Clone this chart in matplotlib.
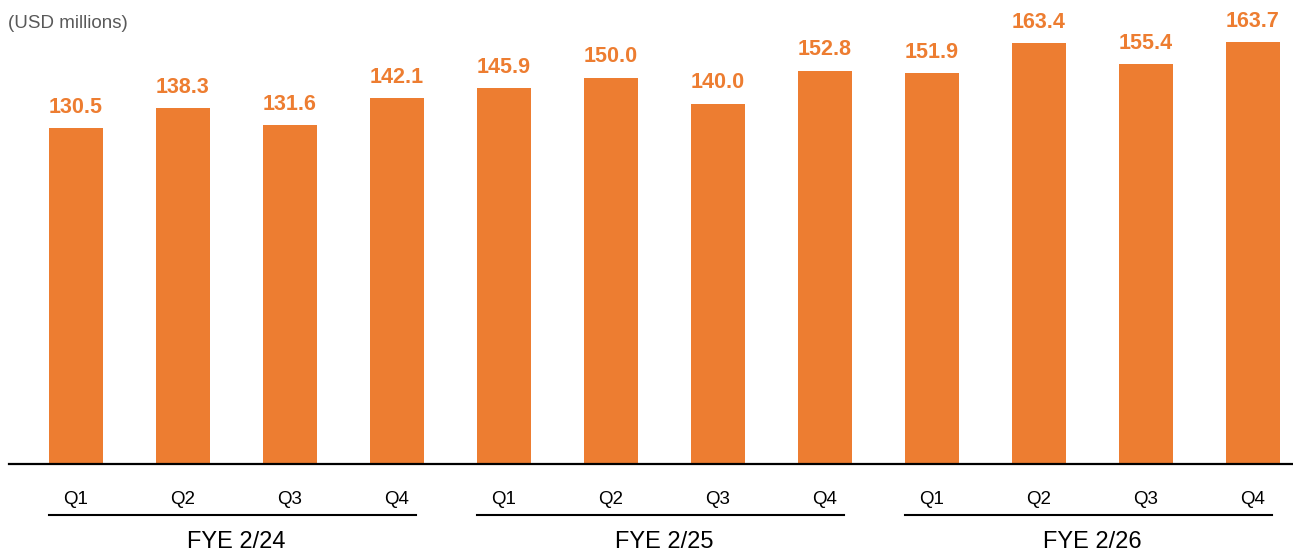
import matplotlib.pyplot as plt

plt.rcParams["font.family"] = ["Liberation Sans", "DejaVu Sans"]

QUARTERS = ["Q1", "Q2", "Q3", "Q4"] * 3
VALUES = [130.5, 138.3, 131.6, 142.1, 145.9, 150.0, 140.0, 152.8, 151.9, 163.4, 155.4, 163.7]
GROUPS = ["FYE 2/24", "FYE 2/25", "FYE 2/26"]

ORANGE = "#ED7D31"


def main():
    fig = plt.figure(figsize=(12.93, 5.52), dpi=100)
    # axes spans from baseline (y=464px) to the top, x from 9px to right edge
    ax = fig.add_axes([9 / 1293, (552 - 464) / 552, 1 - 9 / 1293, 464 / 552])

    x = list(range(len(VALUES)))
    ax.bar(x, VALUES, width=0.505, color=ORANGE, zorder=2)

    for i, v in enumerate(VALUES):
        ax.annotate(f"{v:.1f}", (i, v), xytext=(0, 11), textcoords="offset points",
                    ha="center", va="baseline", fontsize=15.5, fontweight="bold", color=ORANGE)

    ax.set_xlim(-0.626, 11.374)
    ax.set_ylim(0, 180.2)

    for side in ["top", "right", "left"]:
        ax.spines[side].set_visible(False)
    ax.spines["bottom"].set_linewidth(1.6)
    ax.spines["bottom"].set_color("black")
    ax.set_xticks([])
    ax.set_yticks([])

    for i, q in enumerate(QUARTERS):
        ax.text(i, -13.8, q, ha="center", va="center", fontsize=13.5, color="black", clip_on=False)

    for g, name in enumerate(GROUPS):
        start = g * 4 - 0.25
        end = g * 4 + 3 + 0.18
        ax.plot([start, end], [-19.8, -19.8], color="black", linewidth=1.5, clip_on=False)
        ax.text((start + end) / 2 + 0.035, -30.3, name, ha="center", va="center", fontsize=17,
                color="black", clip_on=False)

    fig.text(8 / 1293, 1 - 24 / 552, "(USD millions)", ha="left", va="center",
             fontsize=13.5, color="#595959")

    plt.savefig("out.png", dpi=100)


if __name__ == "__main__":
    main()
